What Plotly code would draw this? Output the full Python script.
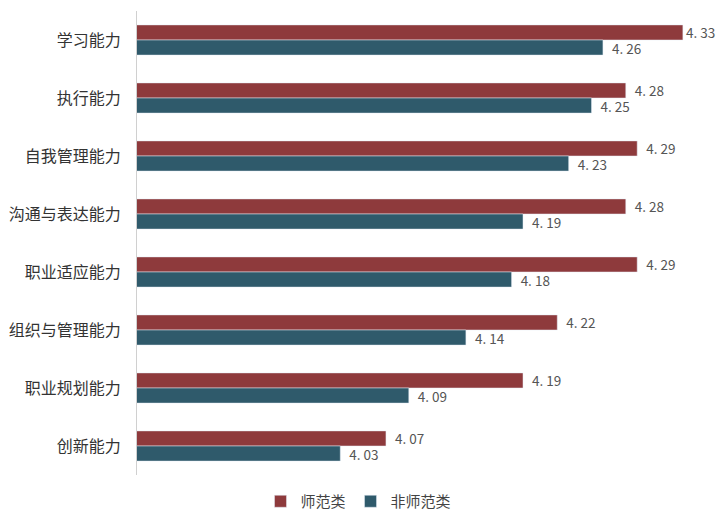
import plotly.graph_objects as go

categories = ["学习能力", "执行能力", "自我管理能力", "沟通与表达能力",
              "职业适应能力", "组织与管理能力", "职业规划能力", "创新能力"]
normal = [4.33, 4.28, 4.29, 4.28, 4.29, 4.22, 4.19, 4.07]
non_normal = [4.26, 4.25, 4.23, 4.19, 4.18, 4.14, 4.09, 4.03]
series_names = ["师范类", "非师范类"]

X_MIN, X_MAX = 3.852, 4.352

def fmt(v):
    s = f"{v:.2f}".replace(".", ". ")
    # small gap before label unless the bar reaches the right edge
    return s if v > X_MAX - 0.03 else "  " + s

font = "Noto Sans CJK SC"
fig = go.Figure()
fig.add_trace(go.Bar(
    y=categories, x=normal, orientation="h", name=series_names[0],
    marker=dict(color="#8E3A3C"), text=[fmt(v) for v in normal],
    textposition="outside", constraintext="none",
    textfont=dict(size=13.5, color="#555555", family=font),
    cliponaxis=False))
fig.add_trace(go.Bar(
    y=categories, x=non_normal, orientation="h", name=series_names[1],
    marker=dict(color="#2F5A6B"), text=[fmt(v) for v in non_normal],
    textposition="outside", constraintext="none",
    textfont=dict(size=13.5, color="#555555", family=font),
    cliponaxis=False))

fig.update_layout(
    width=717, height=518,
    margin=dict(l=137, r=9, t=11, b=43, autoexpand=False),
    plot_bgcolor="white", paper_bgcolor="white",
    barmode="group", bargap=0.48, bargroupgap=0,
    font=dict(family=font, size=13, color="#333333"),
    xaxis=dict(range=[X_MIN, X_MAX], visible=False, fixedrange=True,
               automargin=False),
    yaxis=dict(autorange="reversed", showline=True, linecolor="#d0d0d0",
               linewidth=1, ticks="", ticklabelstandoff=12, automargin=False,
               fixedrange=True, tickfont=dict(size=16, color="#333333")),
    legend=dict(orientation="h", xref="container", x=0.5, xanchor="center",
                yref="container", y=-0.014, yanchor="bottom",
                font=dict(size=15, color="#444444"),
                traceorder="normal", itemwidth=30, tracegroupgap=0),
)
fig.write_html("out.html", config={"displayModeBar": False},
               post_script="document.body.style.margin='0';document.body.style.padding='0';")
